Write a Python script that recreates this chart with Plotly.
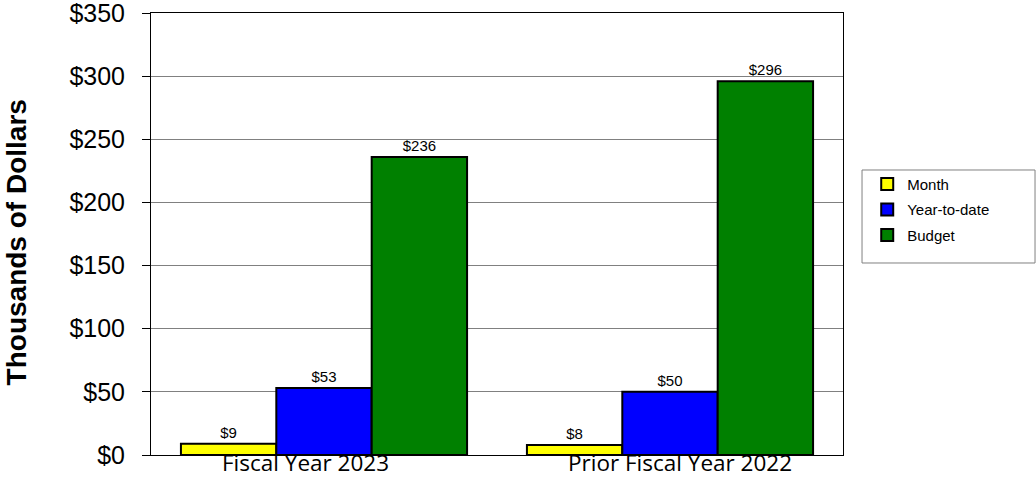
import plotly.graph_objects as go

# Spending summary, in thousands of dollars
categories = ["Fiscal Year 2023", "Prior Fiscal Year 2022"]
series_names = ["Month", "Year-to-date", "Budget"]
month_values = [9, 8]
ytd_values = [53, 50]
budget_values = [236, 296]
series_colors = ["#FFFF00", "#0000FF", "#008000"]
y_tick_values = [0, 50, 100, 150, 200, 250, 300, 350]
y_tick_labels = ["$" + str(v) for v in y_tick_values]

fig = go.Figure()
for name, vals, color in zip(series_names, [month_values, ytd_values, budget_values], series_colors):
    fig.add_trace(go.Bar(
        name=name,
        x=categories,
        y=vals,
        legendgroup=name,
        marker=dict(color=color, line=dict(color="black", width=2)),
        text=["$" + str(v) for v in vals],
        texttemplate="%{text}",
        textposition="outside",
        textfont=dict(family="Arial", size=15, color="black"),
        constraintext="none",
        cliponaxis=False,
    ))

# Category labels sit just under the baseline, overlapping the bar feet
for cat in categories:
    fig.add_annotation(
        x=cat, xref="x", y=0, yref="y",
        text=cat, showarrow=False,
        xanchor="left", yanchor="top", xshift=-104, yshift=10,
        font=dict(family="Open Sans", size=22.5, color="black"),
    )

# Vertical axis title
fig.add_annotation(
    x=-0.193, xref="paper", y=0.482, yref="paper",
    text="<b>Thousands of Dollars</b>", textangle=-90, showarrow=False,
    xanchor="center", yanchor="middle",
    font=dict(family="Arial", size=28, color="black"),
)

# Legend frame
fig.add_shape(
    type="rect", xref="paper", yref="paper",
    x0=1.0275, x1=1.2775, y0=0.4344, y1=0.6448,
    line=dict(color="#808080", width=1), fillcolor="rgba(0,0,0,0)",
)

fig.update_layout(
    width=1036, height=478,
    margin=dict(l=151, r=193, t=13, b=23),
    paper_bgcolor="white", plot_bgcolor="white",
    barmode="group", bargap=0.173, bargroupgap=0,
    font=dict(family="Arial", color="black"),
    showlegend=True,
    legend=dict(
        x=1.035, y=0.650, xanchor="left", yanchor="top",
        bgcolor="rgba(0,0,0,0)", borderwidth=0,
        font=dict(family="Arial", size=15, color="black"),
        tracegroupgap=3,
    ),
)
fig.update_xaxes(
    showticklabels=False, ticks="",
    showline=True, linecolor="black", linewidth=1, mirror=True,
    showgrid=False,
)
fig.update_yaxes(
    range=[0, 350], tickmode="array", tickvals=y_tick_values, ticktext=y_tick_labels,
    ticks="outside", ticklen=8, tickcolor="black", tickwidth=1,
    tickfont=dict(family="Arial", size=25, color="black"),
    ticklabelstandoff=12, ticklabeloverflow="allow",
    showline=True, linecolor="black", linewidth=1, mirror=True,
    showgrid=True, gridcolor="#808080", gridwidth=1,
    zeroline=False,
    automargin=False,
)

fig.write_html("out.html")
